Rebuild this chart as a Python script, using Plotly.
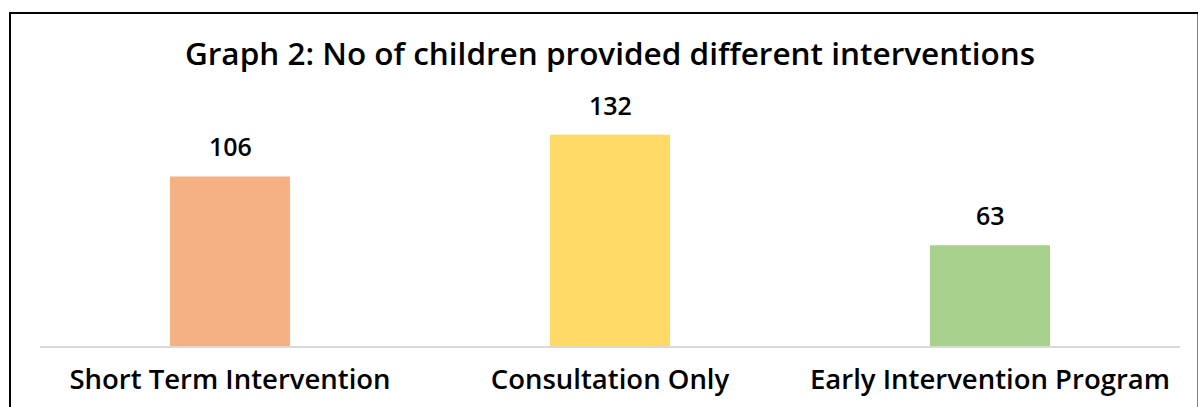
import plotly.graph_objects as go

categories = ["Short Term Intervention", "Consultation Only", "Early Intervention Program"]
values = [106, 132, 63]
colors = ["#F4B183", "#FFD966", "#A9D18E"]
title_text = "Graph 2: No of children provided different interventions"

FONT = "Open Sans"
W, H = 1198, 407
ml, mr, mt, mb = 40, 18, 80, 61
plot_h = H - mt - mb
ymax = plot_h / 1.6

fig = go.Figure()
fig.add_trace(go.Bar(
    x=categories, y=values, marker=dict(color=colors, line=dict(width=0)),
    showlegend=False, hoverinfo="skip",
))
for c, v in zip(categories, values):
    fig.add_annotation(x=c, y=v, text=str(v), showarrow=False, yanchor="bottom",
                       yshift=11, font=dict(family=FONT, size=25, color="#000000", weight=600))

def px_to_paper_y(py):
    return (H - mb - py) / plot_h

def px_to_paper_x(px):
    return (px - ml) / (W - ml - mr)

fig.add_shape(type="rect", xref="paper", yref="paper",
              x0=px_to_paper_x(10), x1=px_to_paper_x(1198.5),
              y0=px_to_paper_y(420), y1=px_to_paper_y(13),
              line=dict(color="#000000", width=2), fillcolor="rgba(0,0,0,0)", layer="below")

fig.update_layout(
    width=W, height=H,
    margin=dict(l=ml, r=mr, t=mt, b=mb, autoexpand=False),
    paper_bgcolor="white", plot_bgcolor="white",
    bargap=0.684,
    title=dict(text=title_text, xref="paper", x=0.5, xanchor="center", y=1 - 54 / H, yanchor="middle",
               font=dict(family=FONT, size=31.5, color="#000000", weight=600)),
    xaxis=dict(showline=True, linecolor="#D9D9D9", linewidth=2, ticks="", showgrid=False,
               ticklabelstandoff=8, automargin=False,
               tickfont=dict(family=FONT, size=27.5, color="#000000", weight=600)),
    yaxis=dict(range=[0, ymax], visible=False, showgrid=False, automargin=False),
)
fig.write_html("out.html")
